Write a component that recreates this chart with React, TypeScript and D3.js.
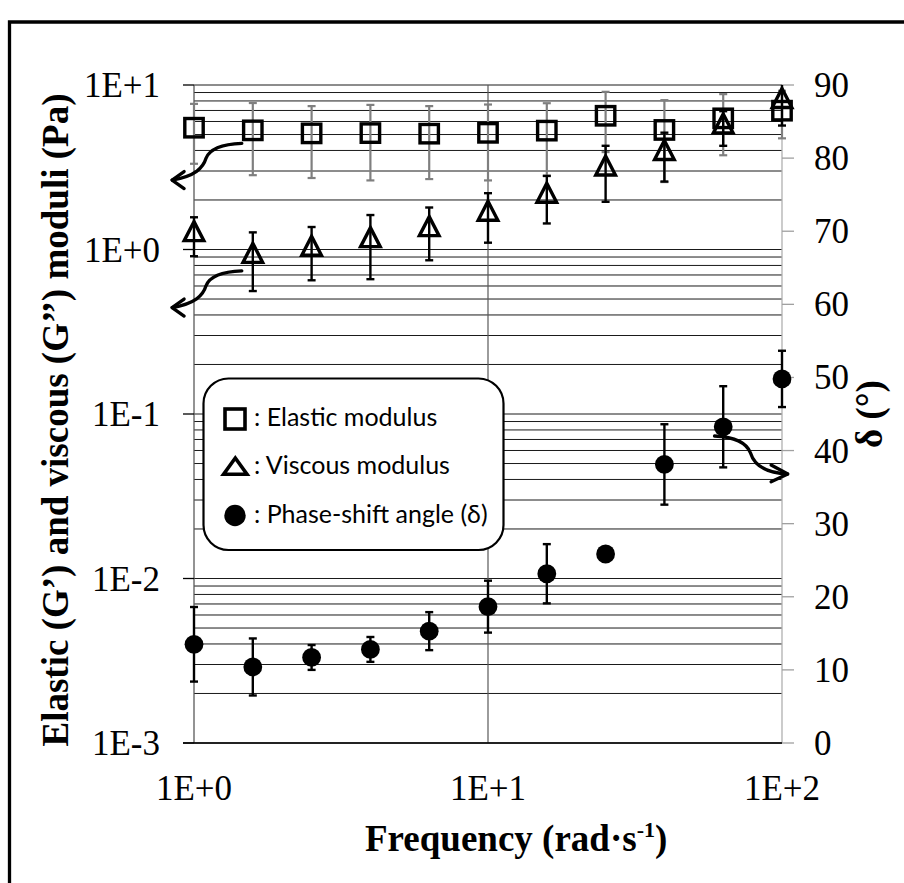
import React from "react";
import * as d3 from "d3";

// ---- data ----
const frequency = [1, 1.585, 2.512, 3.981, 6.31, 10, 15.85, 25.12, 39.81, 63.1, 100];
const elastic = [5.5, 5.3, 5.08, 5.1, 5.06, 5.12, 5.28, 6.5, 5.33, 6.27, 6.98];
const elasticErr = [2.18, 2.47, 2.36, 2.47, 2.38, 2.49, 2.47, 2.59, 2.76, 2.53, 2.24];
const viscous = [1.24, 0.915, 1.01, 1.14, 1.33, 1.65, 2.12, 3.11, 3.86, 5.6, 8.0];
const viscousErr = [0.33, 0.356, 0.36, 0.48, 0.47, 0.55, 0.68, 1.16, 1.27, 1.33, 2.33];
const phase = [13.5, 10.4, 11.7, 12.8, 15.3, 18.65, 23.15, 25.85, 38.1, 43.25, 49.8];
const phaseErr = [5.1, 3.9, 1.7, 1.7, 2.6, 3.55, 4.05, 0, 5.5, 5.55, 3.85];

const xTicks = [1, 10, 100];
const xTickLabels = ["1E+0", "1E+1", "1E+2"];
const yTicks = [1e-3, 1e-2, 1e-1, 1, 10];
const yTickLabels = ["1E-3", "1E-2", "1E-1", "1E+0", "1E+1"];
const yRightTicks = [0, 10, 20, 30, 40, 50, 60, 70, 80, 90];
const legendLabels = ["Elastic modulus", "Viscous modulus", "Phase-shift angle (δ)"];

const SERIF = "'Liberation Serif', 'Times New Roman', Times, serif";
const SANS = "Lato, 'Open Sans', sans-serif";

export default function App() {
  const L = 194, R = 782, T = 85, B = 743;
  const x = d3.scaleLog().domain([1, 100]).range([L, R]);
  const y = d3.scaleLog().domain([1e-3, 10]).range([B, T]);
  const yR = d3.scaleLinear().domain([0, 90]).range([B, T]);

  // minor gridlines: 1..9 x each decade
  const grid: number[] = [];
  for (let e = -3; e < 1; e++) for (let m = 1; m <= 9; m++) grid.push(m * Math.pow(10, e));
  grid.push(10);

  const cap = 4;
  const clampTop = (v: number) => Math.max(v, T);

  const errBar = (cx: number, y1: number, y2: number, color: string, w: number, key: string) => (
    <g key={key} stroke={color} strokeWidth={w} fill="none">
      <line x1={cx} x2={cx} y1={clampTop(y1)} y2={y2} />
      {y1 >= T && <line x1={cx - cap} x2={cx + cap} y1={y1} y2={y1} />}
      <line x1={cx - cap} x2={cx + cap} y1={y2} y2={y2} />
    </g>
  );

  const arrowLeft = (sx: number, sy: number, key: string) => (
    <g key={key} fill="none" stroke="#000" strokeWidth={3.3} strokeLinecap="round" strokeLinejoin="round">
      <path d={`M${sx},${sy} C${sx - 16.7},${sy + 0.7} ${sx - 31.7},${sy + 4.7} ${sx - 35.7},${sy + 14.7} C${sx - 38.7},${sy + 24.7} ${sx - 46.7},${sy + 32.7} ${sx - 69.7},${sy + 36.7}`} />
      <path d={`M${sx - 57.7},${sy + 28.2} L${sx - 69.7},${sy + 36.7} L${sx - 57.7},${sy + 45.2}`} />
    </g>
  );
  const arrowRight = (sx: number, sy: number, key: string) => (
    <g key={key} fill="none" stroke="#000" strokeWidth={3.3} strokeLinecap="round" strokeLinejoin="round">
      <path d={`M${sx},${sy} C${sx + 18},${sy + 1} ${sx + 32},${sy + 6} ${sx + 36},${sy + 17} C${sx + 40},${sy + 30} ${sx + 52},${sy + 37} ${sx + 73},${sy + 38}`} />
      <path d={`M${sx + 56.6},${sy + 29} L${sx + 73.3},${sy + 38} L${sx + 56.6},${sy + 45.7}`} />
    </g>
  );

  const tri = (cx: number, cy: number) =>
    `M${cx},${cy - 12.5} L${cx + 9.8},${cy + 6.5} L${cx - 9.8},${cy + 6.5} Z`;

  return (
    <svg width={904} height={883} style={{ position: "absolute", left: 0, top: 0, background: "#fff" }}>
      <rect x={0} y={0} width={904} height={883} fill="#fff" />
      {/* frame */}
      <path d="M9.5,883 L9.5,22 L904,22" fill="none" stroke="#000" strokeWidth={3.3} />

      {/* horizontal gridlines */}
      {grid.map((g, i) => (
        <line key={"g" + i} x1={L} x2={R} y1={y(g)} y2={y(g)} stroke="#1a1a1a" strokeWidth={1} />
      ))}
      {/* vertical gridline */}
      <line x1={x(10)} x2={x(10)} y1={T} y2={B} stroke="#595959" strokeWidth={1.2} />

      {/* axes */}
      <line x1={L} x2={L} y1={T} y2={B} stroke="#595959" strokeWidth={1.3} />
      <line x1={R} x2={R} y1={T} y2={B} stroke="#b0b0b0" strokeWidth={1.3} />
      <line x1={L - 11} x2={R} y1={B} y2={B} stroke="#000" strokeWidth={1.3} />
      {yTicks.map((t, i) => (
        <line key={"yt" + i} x1={L - 11} x2={L} y1={y(t)} y2={y(t)} stroke="#000" strokeWidth={1.3} />
      ))}
      {yRightTicks.map((t, i) => (
        <line key={"yr" + i} x1={R} x2={R + 12} y1={yR(t)} y2={yR(t)} stroke="#a0a0a0" strokeWidth={1.3} />
      ))}

      {/* tick labels */}
      {yTicks.map((t, i) => (
        <text key={"yl" + i} x={160} y={y(t) + 12} textAnchor="end" fontFamily={SERIF} fontSize={35}>{yTickLabels[i]}</text>
      ))}
      {xTicks.map((t, i) => (
        <text key={"xl" + i} x={x(t)} y={800} textAnchor="middle" fontFamily={SERIF} fontSize={35}>{xTickLabels[i]}</text>
      ))}
      {yRightTicks.map((t, i) => (
        <text key={"rl" + i} x={814} y={yR(t) + 12} textAnchor="start" fontFamily={SERIF} fontSize={35}>{t}</text>
      ))}

      {/* axis titles */}
      <text transform={`translate(68,420) rotate(-90)`} textAnchor="middle" fontFamily={SERIF} fontWeight="bold" fontSize={37}>
        Elastic (G’) and viscous (G’’) moduli (Pa)
      </text>
      <text transform={`translate(882,414) rotate(-90)`} textAnchor="middle" fontFamily={SERIF} fontWeight="bold" fontSize={37}>
        δ (°)
      </text>
      <text x={365} y={851} fontFamily={SERIF} fontWeight="bold" fontSize={37}>
        Frequency (rad·s<tspan dy={-14} fontSize={22}>-1</tspan><tspan dy={14}>)</tspan>
      </text>

      {/* legend */}
      <rect x={203.5} y={378.5} width={300} height={171.5} rx={25} ry={25} fill="#fff" stroke="#000" strokeWidth={2.2} />
      <rect x={225} y={409} width={20} height={20} fill="none" stroke="#000" strokeWidth={3.6} />
      <path d="M235.3,458 L247,474.3 L223.6,474.3 Z" fill="none" stroke="#000" strokeWidth={3.6} strokeLinejoin="miter" />
      <circle cx={235} cy={515.5} r={10.7} fill="#000" />
      <g fontFamily={SANS} fontSize={25} fill="#000">
        <text x={254} y={426}>: {legendLabels[0]}</text>
        <text x={254} y={474}>: {legendLabels[1]}</text>
        <text x={254} y={522.7}>: {legendLabels[2]}</text>
      </g>

      {/* elastic modulus */}
      {frequency.map((f, i) =>
        errBar(x(f), y(elastic[i] + elasticErr[i]), y(elastic[i] - elasticErr[i]), "#7f7f7f", 2.2, "ee" + i)
      )}
      {frequency.map((f, i) => (
        <rect key={"sq" + i} x={x(f) - 9.2} y={y(elastic[i]) - 9.2} width={18.4} height={18.4} fill="none" stroke="#000" strokeWidth={3.4} />
      ))}

      {/* viscous modulus */}
      {frequency.map((f, i) =>
        errBar(x(f), y(viscous[i] + viscousErr[i]), y(viscous[i] - viscousErr[i]), "#000", 2.4, "ve" + i)
      )}
      {frequency.map((f, i) => (
        <path key={"tr" + i} d={tri(x(f), y(viscous[i]))} fill="none" stroke="#000" strokeWidth={3.4} strokeLinejoin="miter" />
      ))}

      {/* phase angle */}
      {frequency.map((f, i) =>
        phaseErr[i] > 0 ? errBar(x(f), yR(phase[i] + phaseErr[i]), yR(phase[i] - phaseErr[i]), "#000", 2.4, "pe" + i) : null
      )}
      {frequency.map((f, i) => (
        <circle key={"ci" + i} cx={x(f)} cy={yR(phase[i])} r={9.4} fill="#000" />
      ))}

      {/* annotation arrows */}
      {arrowLeft(x(frequency[1]) - 11, y(elastic[1]) + 13, "a1")}
      {arrowLeft(x(frequency[1]) - 11, y(viscous[1]) + 15, "a2")}
      {arrowRight(x(frequency[9]) - 8.7, yR(phase[9]) + 9.2, "a3")}
    </svg>
  );
}
